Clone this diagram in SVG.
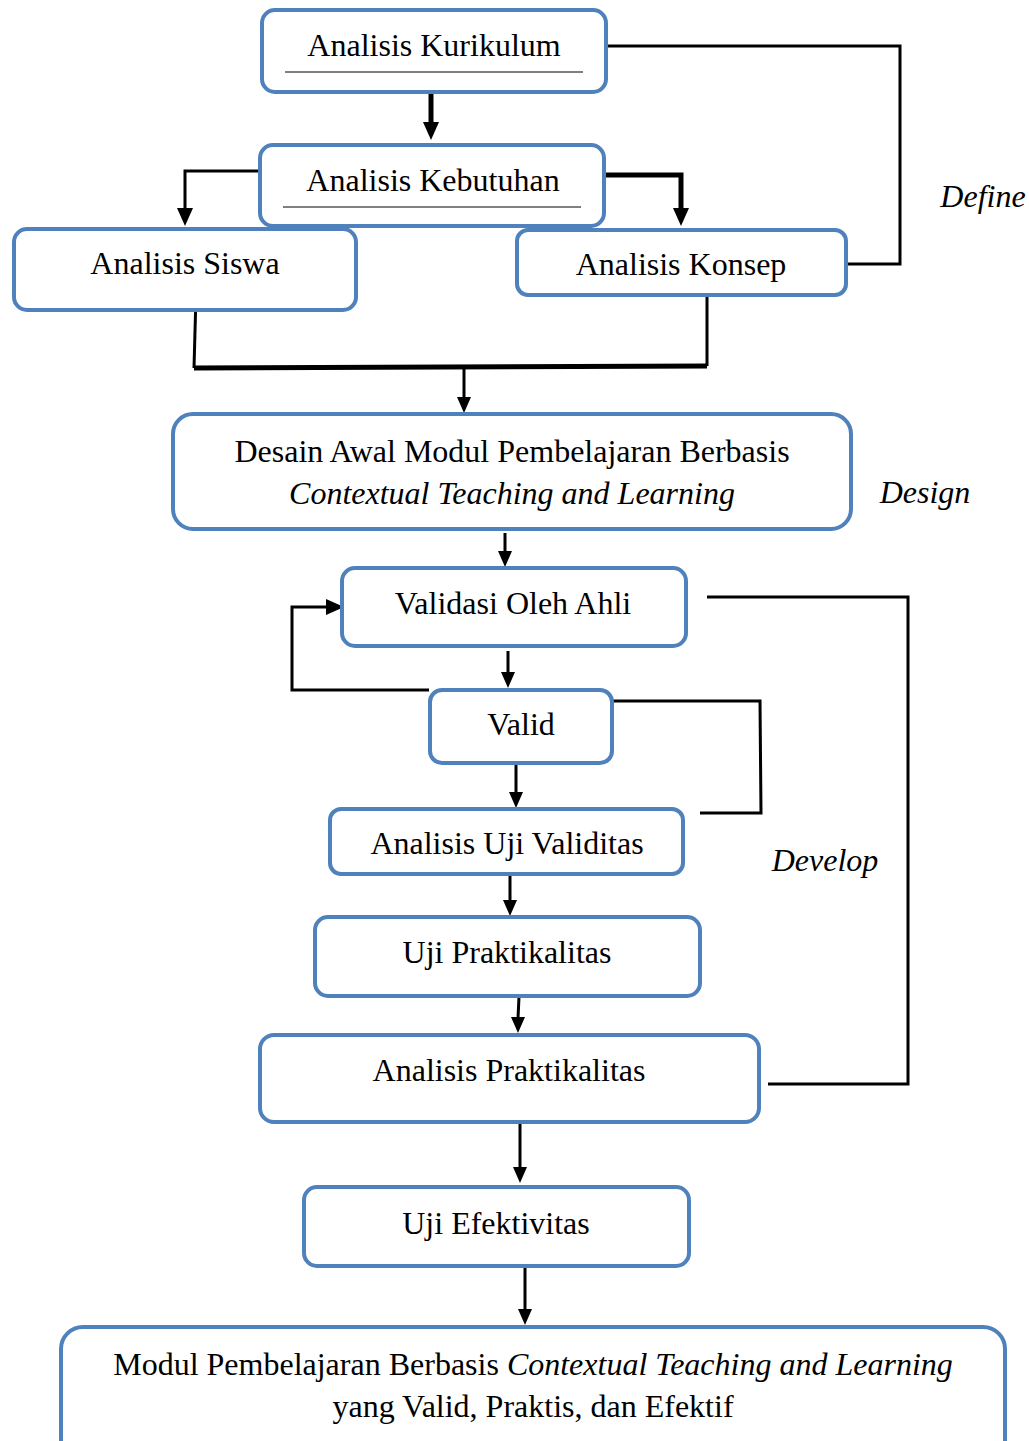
<svg xmlns="http://www.w3.org/2000/svg" width="1029" height="1441" viewBox="0 0 1029 1441">
<defs>
<style>
.box{fill:#fff;stroke:#4F81BD;stroke-width:4}
.t{font-family:"Liberation Serif","Times New Roman",serif;font-size:32px;fill:#000;text-anchor:middle}
.i{font-style:italic}
.ln{fill:none;stroke:#000;stroke-width:3}
.thk{stroke-width:5}
.ul{stroke:#000;stroke-width:1}
</style>
</defs>
<rect width="1029" height="1441" fill="#fff"/>
<g id="connectors">
<path class="ln thk" d="M431,92 V124"/><path d="M423,122 L439,122 L431,140 z"/>
<path class="ln" d="M260,171 H185 V210"/><path d="M177,208 L193,208 L185,226 z"/>
<path class="ln thk" d="M604,175 H681 V210"/><path d="M673,208 L689,208 L681,226 z"/>
<path class="ln" d="M601,46 H900 V264 H846"/>
<path class="ln" d="M196,295 L194,368"/>
<path class="ln thk" d="M194,368 L707,366"/>
<path class="ln" d="M707,366 V293"/>
<path class="ln" d="M464,368 V398"/><path d="M457,397 L471,397 L464,413 z"/>
<path class="ln" d="M505,533 V552"/><path d="M498,551 L512,551 L505,567 z"/>
<path class="ln" d="M508,651 V673"/><path d="M501,672 L515,672 L508,688 z"/>
<path class="ln" d="M429,690 H292 V607 H330"/><path d="M326,599 L344,607 L326,615 z"/>
<path class="ln" d="M612,701 H760 L761,813 H700"/>
<path class="ln" d="M516,765 V793"/><path d="M509,792 L523,792 L516,808 z"/>
<path class="ln" d="M510,875 V901"/><path d="M503,900 L517,900 L510,916 z"/>
<path class="ln" d="M519,997 L518,1018"/><path d="M511,1017 L525,1017 L518,1033 z"/>
<path class="ln" d="M707,597 H908 V1084 H768"/>
<path class="ln" d="M520,1123 V1168"/><path d="M513,1167 L527,1167 L520,1183 z"/>
<path class="ln" d="M525,1266 V1310"/><path d="M518,1309 L532,1309 L525,1325 z"/>
</g>
<g id="n1"><rect class="box" x="262" y="10" width="344" height="82" rx="13"/><text class="t" x="434" y="56">Analisis Kurikulum</text><line class="ul" x1="285" y1="72" x2="583" y2="72"/></g>
<g id="n2"><rect class="box" x="260" y="145" width="344" height="81" rx="13"/><text class="t" x="433" y="191">Analisis Kebutuhan</text><line class="ul" x1="283" y1="207" x2="581" y2="207"/></g>
<g id="n3"><rect class="box" x="14" y="229" width="342" height="81" rx="13"/><text class="t" x="185" y="274">Analisis Siswa</text></g>
<g id="n4"><rect class="box" x="517" y="230" width="329" height="65" rx="11"/><text class="t" x="681" y="275">Analisis Konsep</text></g>
<g id="n5"><rect class="box" x="173" y="414" width="678" height="115" rx="20"/><text class="t" x="512" y="462">Desain Awal Modul Pembelajaran Berbasis</text><text class="t i" x="512" y="504">Contextual Teaching and Learning</text></g>
<g id="n6"><rect class="box" x="342" y="568" width="344" height="78" rx="13"/><text class="t" x="513" y="614">Validasi Oleh Ahli</text></g>
<g id="n7"><rect class="box" x="430" y="690" width="182" height="73" rx="12"/><text class="t" x="521" y="735">Valid</text></g>
<g id="n8"><rect class="box" x="330" y="809" width="353" height="65" rx="11"/><text class="t" x="507" y="854">Analisis Uji Validitas</text></g>
<g id="n9"><rect class="box" x="315" y="917" width="385" height="79" rx="13"/><text class="t" x="507" y="963">Uji Praktikalitas</text></g>
<g id="n10"><rect class="box" x="260" y="1035" width="499" height="87" rx="14"/><text class="t" x="509" y="1081">Analisis Praktikalitas</text></g>
<g id="n11"><rect class="box" x="304" y="1187" width="385" height="79" rx="13"/><text class="t" x="496" y="1234">Uji Efektivitas</text></g>
<g id="n12"><rect class="box" x="61" y="1327" width="944" height="140" rx="22"/><text class="t" x="533" y="1375">Modul Pembelajaran Berbasis <tspan class="i">Contextual Teaching and Learning</tspan></text><text class="t" x="533" y="1417">yang Valid, Praktis, dan Efektif</text></g>
<g id="labels">
<text class="t i" x="983" y="207">Define</text>
<text class="t i" x="925" y="503">Design</text>
<text class="t i" x="825" y="871">Develop</text>
</g>
</svg>
